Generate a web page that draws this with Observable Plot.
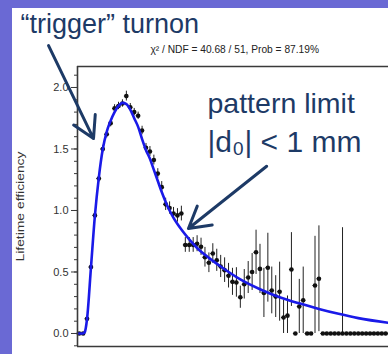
<!DOCTYPE html>
<html>
<head>
<meta charset="utf-8">
<script src="https://cdn.jsdelivr.net/npm/d3@7"></script>
<script src="https://cdn.jsdelivr.net/npm/@observablehq/plot@0.6"></script>
<style>
  html, body { margin: 0; padding: 0; }
  body { width: 388px; height: 354px; background: #6a69d4; position: relative; overflow: hidden; }
  #chart { position: absolute; left: 12px; top: 8px; }
  #chart svg { display: block; }
</style>
</head>
<body>
<div id="chart"></div>
<script>
// Lifetime efficiency per bin (bin index along proper time)
const binEff = [
  0, 0, 0.12, 0.54, 0.96, 1.26, 1.50, 1.62, 1.71, 1.83,
  1.85, 1.87, 1.93, 1.84, 1.80, 1.77, 1.65, 1.51, 1.48, 1.41,
  1.30, 1.19, 1.05, 1.02, 0.975, 0.96, 0.975, 0.72, 0.72, 0.72,
  0.73, 0.705, 0.62, 0.575, 0.65, 0.595, 0.545, 0.515, 0.47, 0.42,
  0.415, 0.295, 0.40, 0.455, 0.50, 0.66, 0.525, 0.33, 0.535, 0.35,
  0.30, 0.34, 0.13, 0.145, 0.52, 0, 0.22, 0.27, 0, 0,
  0.39, 0.445, 0, 0, 0, 0, 0, 0, 0, 0,
  0, 0, 0, 0, 0, 0, 0, 0, 0
];
// Statistical uncertainty per bin
const binErr = [
  0, 0, 0.02, 0.03, 0.03, 0.03, 0.03, 0.03, 0.03, 0.03,
  0.03, 0.03, 0.04, 0.03, 0.03, 0.03, 0.035, 0.035, 0.04, 0.04,
  0.04, 0.045, 0.05, 0.05, 0.05, 0.055, 0.06, 0.06, 0.06, 0.06,
  0.065, 0.07, 0.08, 0.08, 0.08, 0.09, 0.09, 0.10, 0.10, 0.11,
  0.12, 0.09, 0.12, 0.13, 0.15, 0.18, 0.20, 0.20, 0.28, 0.19,
  0.17, 0.24, 0.14, 0.16, 0.30, 0, 0.22, 0.27, 0, 0,
  0.40, 0.43, 0, 0, 0, 0, 0, 0.86, 0, 0,
  0, 0, 0, 0, 0, 0, 0, 0, 0
];

// Fitted efficiency curve, sampled along the same bin axis
const fitT = [-0.43, 1.0, 1.4, 2, 3, 4, 5, 6, 7, 8, 9, 10, 11, 12, 13, 14, 15, 16, 17, 18,
  19, 20, 21, 22, 23, 24, 25, 26, 28, 30, 33, 36, 41, 46, 51, 56, 61, 66, 71, 78.7];
const fitEff = [0, 0, 0.01, 0.12, 0.54, 0.96, 1.27, 1.50, 1.64, 1.73, 1.80, 1.85, 1.875, 1.865, 1.82, 1.75, 1.68, 1.58, 1.49, 1.42,
  1.33, 1.24, 1.15, 1.07, 1.00, 0.94, 0.89, 0.845, 0.765, 0.695, 0.615, 0.545, 0.44, 0.36, 0.295, 0.245, 0.20, 0.16, 0.125, 0.087];

// Axis ticks
const yMajor = [0, 0.5, 1.0, 1.5, 2.0];
const yMinor = d3.range(-1, 22).map(k => k / 10);

// Annotation pointers (tail -> head) in bin / efficiency units
const pointerT1 = [-7.8, 47.7];
const pointerE1 = [2.34, 1.36];
const pointerT2 = [3.64, 27.8];
const pointerE2 = [1.585, 0.854];

// Texts
const fitInfo = "χ² / NDF = 40.68 / 51, Prob = 87.19%";
const yLabel = "Lifetime efficiency";
const noteTurnon = "“trigger” turnon";
const noteLimit1 = "pattern limit";
const noteLimit2 = "|d₀| < 1 mm";

const bins = binEff.map((v, i) => ({i, v, e: binErr[i]}));
const fit = fitT.map((t, k) => ({t, eff: fitEff[k]}));
const pointers = pointerT1.map((t, k) => ({t1: t, e1: pointerE1[k], t2: pointerT2[k], e2: pointerE2[k]}));

const W = 376, H = 346, mL = 65, mR = 0, mT = 58, mB = 8;
const xLo = -0.433, xHi = 78.70;
const yLo = -0.1057, yHi = 2.1707;
const binPx = (W - mL - mR) / (xHi - xLo); // pixels per bin, for outside tick lengths
const navy = "#1d3a66";
const axisInk = "#3a3a3a";
const font = "'Liberation Sans', Arial, Helvetica, sans-serif";

const chart = Plot.plot({
  width: W,
  height: H,
  marginLeft: mL,
  marginRight: mR,
  marginTop: mT,
  marginBottom: mB,
  x: {domain: [xLo, xHi], axis: null},
  y: {domain: [yLo, yHi], axis: null},
  style: {background: "#ffffff", overflow: "visible", fontFamily: font, color: "#333"},
  marks: [
    // bin-width whiskers and vertical error bars
    Plot.ruleY(bins, {y: "v", x1: d => d.i - 0.5, x2: d => d.i + 0.5, stroke: "#111", strokeWidth: 1}),
    Plot.ruleX(bins.filter(d => d.e > 0), {x: "i", y1: d => Math.max(0, d.v - d.e), y2: d => d.v + d.e, stroke: "#222", strokeWidth: 1}),
    Plot.dot(bins, {x: "i", y: "v", r: 2.3, fill: "#111", stroke: "none"}),
    // fit curve
    Plot.line(fit, {x: "t", y: "eff", stroke: "#1a1ae8", strokeWidth: 2.6, curve: "monotone-x"}),
    // frame: left, bottom, top
    Plot.ruleX([xLo], {stroke: axisInk, strokeWidth: 1.6}),
    Plot.ruleY([yLo, yHi], {stroke: axisInk, strokeWidth: 1.6}),
    // y axis: minor and major ticks outside the frame, with labels
    Plot.ruleY(yMinor, {x1: xLo - 3 / binPx, x2: xLo, stroke: axisInk, strokeWidth: 1}),
    Plot.ruleY(yMajor, {x1: xLo - 6 / binPx, x2: xLo, stroke: axisInk, strokeWidth: 1}),
    Plot.text(yMajor, {x: xLo, y: d => d, text: d3.format(".1f"), dx: -9, textAnchor: "end", lineAnchor: "middle", fontSize: 11, fill: "#333"}),
    Plot.text([yLabel], {frameAnchor: "left", dx: -57, rotate: -90, fontSize: 11, fill: "#333", textAnchor: "middle", lineAnchor: "middle"}),
    // fit summary
    Plot.text([fitInfo], {frameAnchor: "top-left", dx: 73, dy: -14, fontSize: 10.2, fill: "#222", textAnchor: "start", lineAnchor: "bottom"}),
    // annotations
    Plot.arrow(pointers, {x1: "t1", y1: "e1", x2: "t2", y2: "e2", stroke: navy, strokeWidth: 3, headLength: 12}),
    Plot.text([noteTurnon], {frameAnchor: "top-left", dx: -57, dy: -34, fontSize: 27, fill: navy, textAnchor: "start", lineAnchor: "bottom"}),
    Plot.text([noteLimit1], {frameAnchor: "top-left", dx: 130, dy: 46, fontSize: 28.5, fill: navy, textAnchor: "start", lineAnchor: "bottom"}),
    Plot.text([noteLimit2], {frameAnchor: "top-left", dx: 130, dy: 85, fontSize: 30, fill: navy, textAnchor: "start", lineAnchor: "bottom"})
  ]
});
document.getElementById("chart").appendChild(chart);

// the axis title is drawn tall and narrow
for (const t of chart.querySelectorAll("text")) {
  if (t.textContent === yLabel) {
    t.setAttribute("textLength", 110);
    t.setAttribute("lengthAdjust", "spacingAndGlyphs");
  }
}
</script>
</body>
</html>
